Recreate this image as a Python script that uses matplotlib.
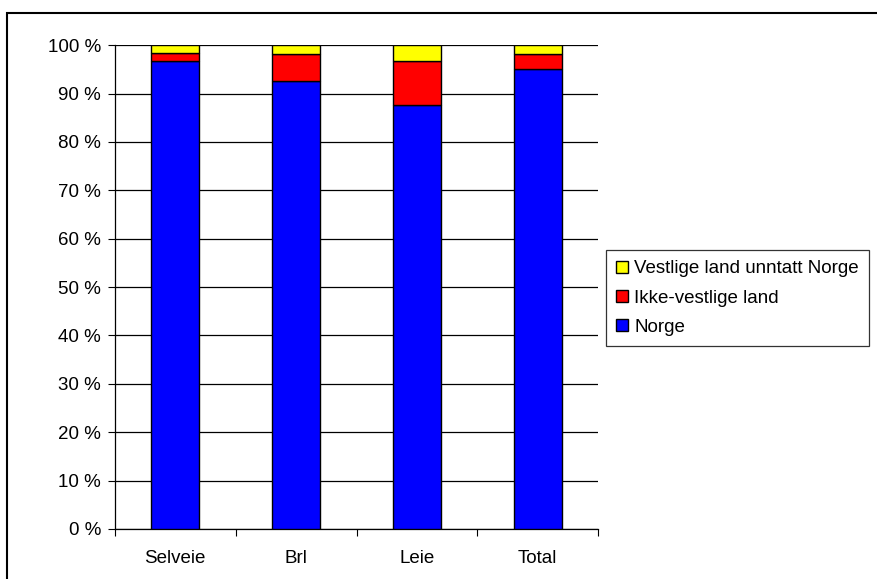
import numpy as np
import matplotlib.pyplot as plt
from matplotlib.patches import Patch, Rectangle

plt.rcParams['font.family'] = ['Liberation Sans', 'DejaVu Sans']

categories = ['Selveie', 'Brl', 'Leie', 'Total']
norge = [96.8, 92.6, 87.7, 95.0]
ikke_vestlige = [1.6, 5.5, 9.1, 3.1]
vestlige = [1.6, 1.9, 3.2, 1.9]
series_names = ['Norge', 'Ikke-vestlige land', 'Vestlige land unntatt Norge']
colors = ['#0000ff', '#ff0000', '#ffff00']

fig = plt.figure(figsize=(8.77, 5.79), dpi=100)
ax = fig.add_axes([0.131, 0.0864, 0.551, 0.8356])

x = np.arange(len(categories))
bottom = np.zeros(len(categories))
for vals, col in zip([norge, ikke_vestlige, vestlige], colors):
    ax.bar(x, vals, 0.4, bottom=bottom, color=col, edgecolor='black', linewidth=1, zorder=3)
    bottom += np.array(vals)

ax.set_xlim(-0.5, len(categories) - 0.5)
ax.set_ylim(0, 100)
ax.set_yticks(range(0, 101, 10))
ax.set_yticklabels([f'{v} %' for v in range(0, 101, 10)], fontsize=13.5)
ax.yaxis.grid(True, color='black', linewidth=0.9, zorder=0)
ax.set_xticks(np.arange(-0.5, len(categories), 1))
ax.set_xticklabels([])
ax.set_xticks(x, minor=True)
ax.set_xticklabels(categories, minor=True, fontsize=13.5)
ax.tick_params(axis='x', which='minor', length=0, pad=15)
ax.tick_params(axis='x', which='major', length=5, direction='out')
ax.tick_params(axis='y', length=5, direction='out', pad=5)
for s in ['top', 'right']:
    ax.spines[s].set_visible(False)
ax.spines['left'].set_linewidth(0.9)
ax.spines['bottom'].set_linewidth(0.9)

handles = [Patch(facecolor=c, edgecolor='black', label=n) for c, n in zip(colors, series_names)][::-1]
leg = fig.legend(handles=handles, loc='upper left', bbox_to_anchor=(0.691, 0.568),
                 fontsize=13.5, frameon=True, fancybox=False, handlelength=0.6,
                 handleheight=0.6, handletextpad=0.35, borderpad=0.55, labelspacing=0.65,
                 borderaxespad=0)
leg.get_frame().set_edgecolor('black')
leg.get_frame().set_linewidth(0.9)

fig.patches.append(Rectangle((0.008, -0.01), 1.0, 0.988, transform=fig.transFigure,
                             fill=False, edgecolor='black', linewidth=1.5))

fig.savefig('out.png', dpi=100)
